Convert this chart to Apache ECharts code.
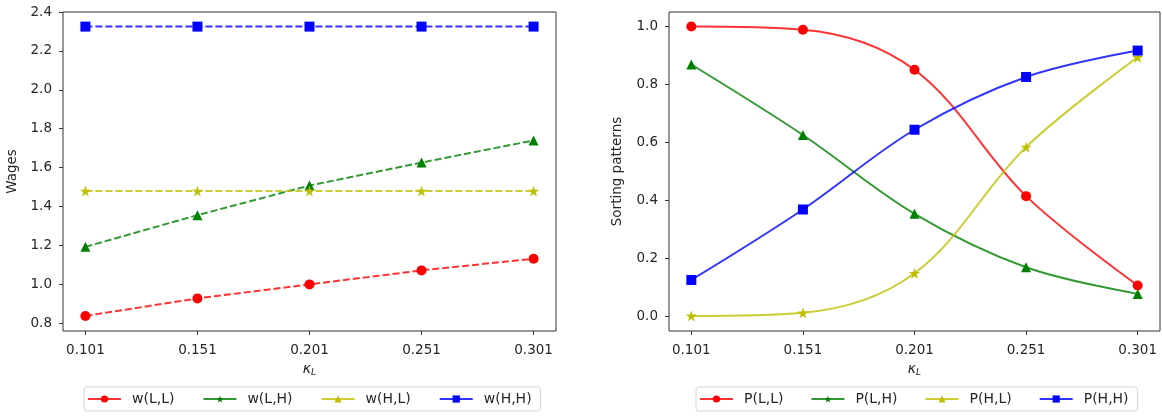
<!DOCTYPE html>
<html>
<head>
<meta charset="utf-8">
<script src="https://cdn.jsdelivr.net/npm/echarts@6/dist/echarts.min.js"></script>
<style>
html,body{margin:0;padding:0;background:#fff;}
#chart{width:1162px;height:416px;}
</style>
</head>
<body>
<div id="chart"></div>
<script>
// ---- data ----
var kappa = [0.101, 0.151, 0.201, 0.251, 0.301];
var xTicks = [0.101, 0.151, 0.201, 0.251, 0.301];
var wagesTicks = [0.8, 1.0, 1.2, 1.4, 1.6, 1.8, 2.0, 2.2, 2.4];
var sortTicks = [0.0, 0.2, 0.4, 0.6, 0.8, 1.0];

var wLL = [0.838, 0.928, 1.000, 1.072, 1.132];
var wLH = [1.193, 1.356, 1.508, 1.626, 1.740];
var wHL = [1.480, 1.480, 1.480, 1.480, 1.480];
var wHH = [2.325, 2.325, 2.325, 2.325, 2.325];

var pLL = [1.000, 0.989, 0.851, 0.415, 0.107];
var pLH = [0.869, 0.626, 0.354, 0.170, 0.078];
var pHL = [0.002, 0.013, 0.149, 0.584, 0.894];
var pHH = [0.126, 0.369, 0.644, 0.826, 0.917];

var leftNames = ['w(L,L)', 'w(L,H)', 'w(H,L)', 'w(H,H)'];
var rightNames = ['P(L,L)', 'P(L,H)', 'P(H,L)', 'P(H,H)'];

// ---- styles ----
var STAR = 'path://M50,0 L61.23,34.55 L97.55,34.55 L68.17,55.9 L79.39,90.45 L50,69.1 L20.61,90.45 L31.83,55.9 L2.45,34.55 L38.77,34.55 Z';
var colors = ['#ff0000', '#008000', '#bfbf00', '#0000ff'];
var plotSymbols = ['circle', 'triangle', STAR, 'rect'];
var legendSymbols = ['circle', STAR, 'triangle', 'rect'];
var TXT = '#262626';
var FONT = 'DejaVu Sans';

function makeSeries(name, vals, idx, gridIndex, dashed) {
  return {
    type: 'line',
    name: name,
    xAxisIndex: gridIndex,
    yAxisIndex: gridIndex,
    symbol: legendSymbols[idx],
    symbolSize: 10,
    smooth: dashed ? false : 0.35,
    lineStyle: {color: colors[idx], width: 2, opacity: 0.8, type: dashed ? [7, 3] : 'solid'},
    itemStyle: {color: colors[idx], opacity: 1},
    emphasis: {disabled: true},
    data: kappa.map(function (x, i) {
      return {value: [x, vals[i]], symbol: plotSymbols[idx], symbolSize: idx === 2 ? 11 : 10};
    })
  };
}

function xAxis(gridIndex) {
  return {
    type: 'value', gridIndex: gridIndex, min: 0.091, max: 0.311,
    axisLine: {show: false, onZero: false},
    splitLine: {show: false},
    axisTick: {show: true, length: 4, lineStyle: {color: '#333'}, customValues: xTicks},
    axisLabel: {customValues: xTicks, margin: 12, color: TXT, fontSize: 13.5, fontFamily: FONT,
      formatter: function (v) { return v.toFixed(3); }},
    name: '{k|κ}{s|L}', nameLocation: 'middle', nameGap: 29,
    nameTextStyle: {
      rich: {
        k: {fontStyle: 'italic', fontSize: 14, color: TXT, fontFamily: FONT},
        s: {fontStyle: 'italic', fontSize: 9, color: TXT, fontFamily: FONT, padding: [7, 0, 0, 0]}
      }
    }
  };
}

function yAxis(gridIndex, min, max, ticks, name, gap) {
  return {
    type: 'value', gridIndex: gridIndex, min: min, max: max,
    axisLine: {show: false, onZero: false},
    splitLine: {show: false},
    axisTick: {show: true, length: 4, lineStyle: {color: '#333'}, customValues: ticks},
    axisLabel: {customValues: ticks, margin: 11, color: TXT, fontSize: 13.5, fontFamily: FONT,
      formatter: function (v) { return v.toFixed(1); }},
    name: name, nameLocation: 'middle', nameRotate: 90, nameGap: gap,
    nameTextStyle: {color: TXT, fontSize: 13.5, fontFamily: FONT}
  };
}

function legend(names, left, gap) {
  return {
    data: names,
    left: left, top: 387,
    orient: 'horizontal',
    itemWidth: 33, itemHeight: 9, itemGap: gap,
    padding: [5, 9, 5, 3],
    borderColor: '#d5d5d5', borderWidth: 1, borderRadius: 3,
    backgroundColor: '#fff',
    selectedMode: false,
    lineStyle: {type: 'solid', width: 2},
    textStyle: {color: TXT, fontSize: 14, fontFamily: FONT, padding: [0, 0, 0, 6]}
  };
}

var series = [];
[wLL, wLH, wHL, wHH].forEach(function (v, i) { series.push(makeSeries(leftNames[i], v, i, 0, true)); });
[pLL, pLH, pHL, pHH].forEach(function (v, i) { series.push(makeSeries(rightNames[i], v, i, 1, false)); });

var option = {
  animation: false,
  backgroundColor: '#fff',
  textStyle: {fontFamily: FONT},
  grid: [
    {left: 63, top: 12, width: 493, height: 319, show: true, borderColor: '#333', borderWidth: 1, backgroundColor: 'transparent', containLabel: false, outerBoundsMode: 'none'},
    {left: 669, top: 12, width: 491, height: 319, show: true, borderColor: '#333', borderWidth: 1, backgroundColor: 'transparent', containLabel: false, outerBoundsMode: 'none'}
  ],
  xAxis: [xAxis(0), xAxis(1)],
  yAxis: [
    yAxis(0, 0.7605, 2.4, wagesTicks, 'Wages', 44),
    yAxis(1, -0.05, 1.05, sortTicks, 'Sorting patterns', 45)
  ],
  legend: [legend(leftNames, 84, 28), legend(rightNames, 696, 27)],
  tooltip: {show: false},
  series: series
};

var chart = echarts.init(document.getElementById('chart'), null, {renderer: 'canvas'});
chart.setOption(option);
</script>
</body>
</html>
